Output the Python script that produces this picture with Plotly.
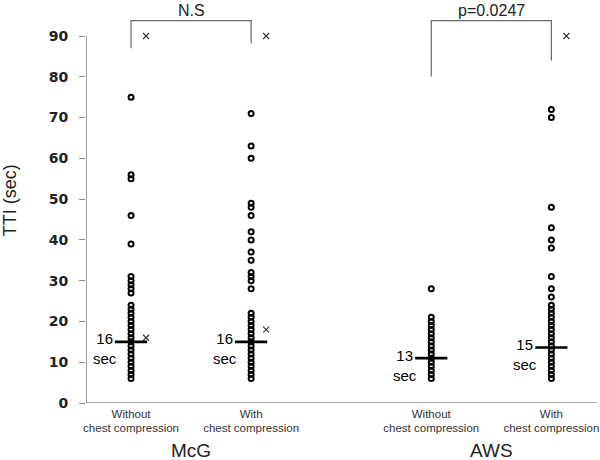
import plotly.graph_objects as go

# ---- data ----
positions = [1, 2, 3.5, 4.5]
category_labels = ["Without<br>chest compression", "With<br>chest compression",
                   "Without<br>chest compression", "With<br>chest compression"]
group_names = ["McG", "AWS"]

mcg_without = [75, 56, 55, 46, 39, 31, 30, 29, 28, 27, 24, 23, 22, 21, 20, 19, 18, 17,
               16, 15, 14, 13, 12, 11, 10, 9, 8, 7, 6]
mcg_with = [71, 63, 60, 49, 48, 46, 42, 40, 37, 35, 32, 31, 30, 28, 22, 21, 20, 19, 18,
            17, 16, 15, 14, 13, 12, 11, 10, 9, 8, 7, 6]
aws_without = [28, 21, 20, 19, 18, 17, 16, 15, 14, 13, 12, 11, 10, 9, 8, 7, 6]
aws_with = [72, 70, 48, 43, 40, 38, 31, 28, 26, 24, 23, 22, 21, 20, 19, 18, 17, 16, 15,
            14, 13, 12, 11, 10, 9, 8, 7, 6]
series = [mcg_without, mcg_with, aws_without, aws_with]

medians = [15, 15, 11, 13.6]
median_labels = ["16<br>sec", "16<br>sec", "13<br>sec", "15<br>sec"]

# "x" marks: (column index, value)
x_marks_col = [0, 0, 1, 1, 3]
x_marks_val = [90, 16, 90, 18, 90]

# significance brackets
bracket_cols = [(0, 1), (2, 3)]
bracket_legs = [(87, 88.2), (80.1, 84)]
bracket_top = 93.75
bracket_text = ["N.S", "p=0.0247"]

fig = go.Figure()

for i, vals in enumerate(series):
    fig.add_trace(go.Scatter(
        x=[positions[i]] * len(vals), y=vals, mode="markers",
        marker=dict(symbol="circle-open", size=5, color="black",
                    line=dict(width=2, color="black")),
        showlegend=False, hoverinfo="y"))

fig.add_trace(go.Scatter(
    x=positions, y=medians, mode="markers",
    marker=dict(symbol="line-ew", size=23, line=dict(width=2.6, color="black")),
    showlegend=False, hoverinfo="y"))

fig.add_trace(go.Scatter(
    x=[positions[c] + 0.125 for c in x_marks_col], y=x_marks_val, mode="markers",
    marker=dict(symbol="x-thin", size=6, line=dict(width=1.1, color="#333")),
    showlegend=False, hoverinfo="skip", cliponaxis=False))

for i, lab in enumerate(median_labels):
    fig.add_annotation(x=positions[i] - 0.1, y=medians[i] - 1.75, text=lab,
                       showarrow=False, xanchor="right", yanchor="middle", align="center",
                       font=dict(family="Liberation Sans, Arial", size=15, color="black"))

line_col = "#666"
for (a, b), (la, lb), txt in zip(bracket_cols, bracket_legs, bracket_text):
    xa, xb = positions[a], positions[b]
    fig.add_shape(type="path",
                  path=f"M {xa},{la} L {xa},{bracket_top} L {xb},{bracket_top} L {xb},{lb}",
                  line=dict(color=line_col, width=1.2), xref="x", yref="y")
    fig.add_annotation(x=(xa + xb) / 2, y=96.2, text=txt, showarrow=False,
                       yanchor="middle", borderpad=0,
                       font=dict(family="Liberation Sans, Arial", size=16, color="#222"))

# axis lines
fig.add_shape(type="line", x0=0.625, x1=0.625, y0=0, y1=90,
              line=dict(color="#8a8a8a", width=1.6), xref="x", yref="y")
fig.add_shape(type="line", x0=0.625, x1=4.88, y0=0, y1=0,
              line=dict(color="#8a8a8a", width=1.6), xref="x", yref="y")

for g, name in enumerate(group_names):
    fig.add_annotation(x=(positions[2 * g] + positions[2 * g + 1]) / 2, y=-0.119,
                       yref="paper", text=name, showarrow=False, yanchor="middle",
                       font=dict(family="Liberation Sans, Arial", size=19, color="#222"))

fig.add_annotation(x=-0.148, y=0.504, xref="paper", yref="paper", text="TTI (sec)",
                   textangle=-90, showarrow=False, xanchor="center", yanchor="middle",
                   font=dict(family="Liberation Sans, Arial", size=18, color="#222"))

fig.update_layout(
    width=600, height=460,
    margin=dict(l=86, r=3, t=0, b=57),
    plot_bgcolor="white", paper_bgcolor="white",
    xaxis=dict(range=[0.625, 4.88], showgrid=False, zeroline=False, showline=False,
               tickvals=positions, ticktext=category_labels, ticks="",
               ticklabelstandoff=2,
               tickfont=dict(family="Liberation Sans, Arial", size=11.5, color="#333")),
    yaxis=dict(range=[0, 98.83], showgrid=False, zeroline=False, showline=False,
               tickvals=list(range(0, 100, 10)), ticks="outside", ticklen=6,
               tickcolor="#8a8a8a", tickwidth=1.2, ticklabelstandoff=8,
               tickfont=dict(family="DejaVu Sans", size=14, color="#222", weight="bold")),
)

fig.write_html("out.html", config={"displayModeBar": False},
               post_script="document.body.style.margin='0';document.body.style.overflow='hidden';")
